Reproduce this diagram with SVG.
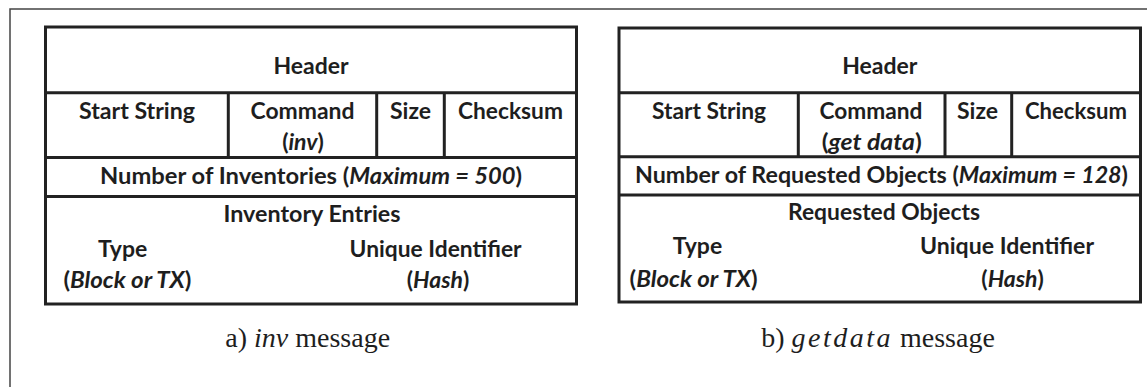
<svg xmlns="http://www.w3.org/2000/svg" width="1147" height="387" viewBox="0 0 1147 387">
<style>
.frame{fill:none;stroke:#444;stroke-width:1.5}
.tb{fill:#fff;stroke:#222;stroke-width:3}
.ln{stroke:#222;stroke-width:3;fill:none}
.t{font-family:Lato,"Open Sans",sans-serif;font-weight:bold;font-size:23px;fill:#1e1e1e;text-anchor:middle}
.i{font-style:italic}
.cap{font-family:"Liberation Serif","Times New Roman",serif;font-size:28px;fill:#1e1e1e;text-anchor:middle}
</style>
<rect width="1147" height="387" fill="#fff"/>
<path class="frame" d="M10,387 V9 H1147"/>
<g id="inv-table">
<rect class="tb" x="45.5" y="27" width="531" height="277"/>
<path class="ln" d="M45.5,92.7 H576.5 M45.5,157.5 H576.5 M45.5,196.5 H576.5 M228.3,92.7 V157.5 M376.7,92.7 V157.5 M444.3,92.7 V157.5"/>
<text class="t" x="311" y="74">Header</text>
<text class="t" x="137" y="119" textLength="116" lengthAdjust="spacingAndGlyphs">Start String</text>
<text class="t" x="302.5" y="119" textLength="104" lengthAdjust="spacingAndGlyphs">Command</text>
<text class="t" x="303" y="150">(<tspan class="i">inv</tspan>)</text>
<text class="t" x="410.5" y="119">Size</text>
<text class="t" x="510.5" y="119" textLength="105" lengthAdjust="spacingAndGlyphs">Checksum</text>
<text class="t" x="311" y="184" textLength="422" lengthAdjust="spacingAndGlyphs">Number of Inventories (<tspan class="i">Maximum = 500</tspan>)</text>
<text class="t" x="312" y="222" textLength="177" lengthAdjust="spacingAndGlyphs">Inventory Entries</text>
<text class="t" x="122.6" y="257">Type</text>
<text class="t" x="435.6" y="257" textLength="172" lengthAdjust="spacingAndGlyphs">Unique Identifier</text>
<text class="t" x="127.4" y="288" textLength="128" lengthAdjust="spacingAndGlyphs">(<tspan class="i">Block or TX</tspan>)</text>
<text class="t" x="438" y="288">(<tspan class="i">Hash</tspan>)</text>
</g>
<g id="getdata-table">
<rect class="tb" x="619" y="28" width="521.5" height="274"/>
<path class="ln" d="M619,92.7 H1140.5 M619,156.7 H1140.5 M619,195 H1140.5 M798.3,92.7 V156.7 M945,92.7 V156.7 M1011.7,92.7 V156.7"/>
<text class="t" x="879.8" y="74">Header</text>
<text class="t" x="709" y="119" textLength="114" lengthAdjust="spacingAndGlyphs">Start String</text>
<text class="t" x="871" y="119" textLength="103" lengthAdjust="spacingAndGlyphs">Command</text>
<text class="t" x="871.7" y="150" textLength="100" lengthAdjust="spacingAndGlyphs">(<tspan class="i">get data</tspan>)</text>
<text class="t" x="977.5" y="119">Size</text>
<text class="t" x="1076" y="119" textLength="102" lengthAdjust="spacingAndGlyphs">Checksum</text>
<text class="t" x="881.5" y="183" textLength="493" lengthAdjust="spacingAndGlyphs">Number of Requested Objects (<tspan class="i">Maximum = 128</tspan>)</text>
<text class="t" x="884" y="220" textLength="192" lengthAdjust="spacingAndGlyphs">Requested Objects</text>
<text class="t" x="697.5" y="254">Type</text>
<text class="t" x="1007" y="254" textLength="174" lengthAdjust="spacingAndGlyphs">Unique Identifier</text>
<text class="t" x="693.6" y="287" textLength="128" lengthAdjust="spacingAndGlyphs">(<tspan class="i">Block or TX</tspan>)</text>
<text class="t" x="1012.6" y="287">(<tspan class="i">Hash</tspan>)</text>
</g>
<g id="captions">
<text class="cap" x="307.7" y="347">a) <tspan font-style="italic">inv</tspan> message</text>
<text class="cap" x="878" y="347">b) <tspan font-style="italic" letter-spacing="2.5">getdata</tspan> message</text>
</g>
</svg>
